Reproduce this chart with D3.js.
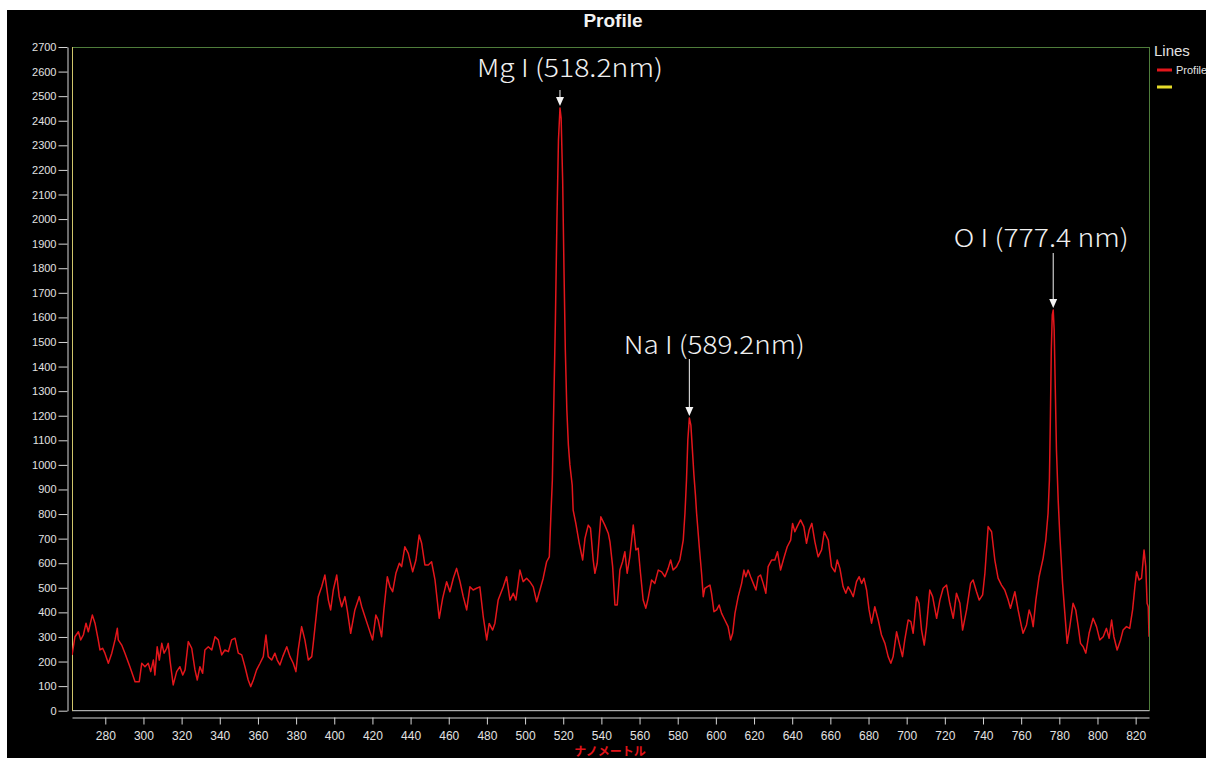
<!DOCTYPE html>
<html>
<head>
<meta charset="utf-8">
<script src="https://cdn.jsdelivr.net/npm/d3@7"></script>
<style>
  html, body { margin: 0; padding: 0; background: #ffffff; }
  svg { display: block; }
</style>
</head>
<body>
<svg id="chart" width="1206" height="758"></svg>
<script>
// Emission profile: [wavelength (nm), intensity]
const profile = [
  [262.6,227],[264.1,301],[265.9,321],[267.1,288],[268.5,308],[269.9,356],[271.1,321],[273.2,389],[274.6,356],[276.3,288],
  [277.2,247],[278.6,254],[279.8,234],[281.6,193],[283.4,234],[285.1,288],[286.3,335],[286.8,288],[288.6,267],[290.3,234],
  [292.9,179],[295.6,118],[297.8,118],[299.1,193],[300.8,179],[302.5,193],[303.8,159],[305.2,206],[306.0,145],[307.2,260],
  [308.3,206],[309.6,274],[310.8,234],[312.2,254],[313.0,274],[313.9,206],[315.6,105],[317.4,159],[319.1,179],[320.6,145],
  [321.8,166],[323.5,281],[325.3,254],[327.0,166],[328.2,125],[329.6,179],[331.0,152],[332.2,247],[334.0,260],[335.8,247],
  [337.5,301],[339.2,288],[341.0,227],[342.7,247],[344.5,240],[346.2,288],[348.0,295],[349.7,234],[351.5,227],[353.2,179],
  [354.9,125],[356.2,98],[357.6,125],[359.3,166],[361.1,193],[362.8,220],[364.2,308],[365.4,220],[367.2,206],[368.9,234],
  [370.1,206],[371.5,186],[373.0,220],[375.1,260],[376.8,220],[378.5,193],[379.9,159],[381.1,247],[382.9,342],[384.6,288],
  [386.4,206],[388.2,220],
  [389.0,274],[391.6,464],[393.4,504],[395.1,552],[396.9,450],[398.1,410],[399.5,491],[401.3,552],[402.6,464],[403.9,423],
  [405.6,464],[406.8,410],[408.6,315],[410.8,410],[413.1,464],[414.4,423],[416.1,382],[417.8,342],[420.1,288],[421.8,389],
  [423.0,369],[424.8,301],[426.0,410],[427.8,545],[429.2,504],[430.6,484],[432.3,559],[434.1,600],[435.3,586],[437.0,667],
  [438.8,640],[441.1,565],[442.8,613],[444.5,715],[445.8,681],[447.5,593],[449.3,593],[451.0,606],[452.8,532],[455.0,376],
  [456.8,457],[458.9,525],[460.6,484],[462.4,539],[464.1,579],[465.9,525],[467.6,464],[469.4,410],[471.1,504],[472.8,491],
  [474.6,498],[476.3,504],[478.1,382],[479.9,288],[481.2,355],[483.0,328],[484.2,356],[485.9,450],[488.6,504],[490.3,545],
  [492.1,450],[493.8,478],[495.2,450],[497.3,572],[499.0,525],[500.8,539],[502.5,525],[504.3,504],[506.1,443],[507.8,491],
  [509.5,539],[511.3,606],[512.7,626],
  [513.5,789],[514.3,938],[515.1,1264],[515.9,1589],[516.7,1996],[517.5,2322],[518.3,2452],[518.9,2411],[519.7,2159],[520.4,1793],
  [521.1,1467],[521.9,1223],[522.7,1081],[523.5,1000],[524.7,918],[525.2,816],
  [526.6,762],[528.4,681],[530.2,613],[531.4,701],[533.1,755],[534.3,742],[535.7,613],[536.6,559],[537.8,600],[539.7,789],
  [541.8,755],[543.6,722],[544.5,687],[545.9,586],[547.1,430],[548.3,430],[549.7,572],[551.1,606],[552.3,647],[553.5,559],
  [554.9,626],[556.7,755],[558.1,654],[559.3,661],[560.5,559],[561.9,450],[563.3,417],[564.5,457],[566.3,532],[568.0,518],
  [569.8,572],[571.6,565],[573.3,545],[575.0,579],[576.3,613],[577.6,572],[579.4,586],[581.1,613],[582.9,694],[583.8,803],
  [584.6,938],[585.3,1101],[586.1,1191],[586.9,1162],[587.7,1061],[588.5,959],[589.3,877],[589.9,803],
  [591.3,667],[592.5,559],[593.4,464],[594.2,498],[595.4,504],[596.9,511],[597.7,478],[599.0,403],[600.4,410],[601.7,430],
  [603.0,396],[604.7,369],[606.4,342],[607.7,288],[608.8,315],[610.0,396],[611.7,464],[613.5,518],[614.7,572],[615.7,545],
  [616.9,572],[618.2,545],[619.6,518],[621.0,491],[622.2,545],[623.4,552],[624.8,518],[626.2,478],[627.4,586],[629.2,613],
  [630.9,613],[632.3,647],[633.9,572],[635.6,620],[637.4,667],[639.2,694],[640.2,762],[641.4,728],[642.6,749],[644.4,776],
  [646.1,749],[647.5,681],[648.9,735],[650.3,762],[651.9,687],[653.6,626],[655.4,654],[656.8,728],[658.9,694],[660.6,586],
  [662.4,565],[663.6,613],[665.0,579],[666.7,504],[668.1,478],[669.3,504],[670.8,484],[672.0,464],[673.7,525],[675.1,545],
  [676.4,518],[677.6,539],[679.0,491],[680.3,410],[681.6,356],[683.3,423],[685.1,369],[686.8,308],[688.6,274],[690.3,220],
  [691.7,193],[692.9,220],[694.7,321],[696.1,274],[697.8,220],[699.0,288],[700.8,369],[702.2,362],[703.4,315],[705.2,464],
  [706.5,437],[707.8,328],[709.2,267],[710.4,342],[712.1,491],[713.6,464],[715.7,376],[717.4,450],[719.1,498],[720.9,511],
  [722.6,437],[724.4,376],[726.1,478],[727.9,437],[729.3,328],[731.4,410],[733.5,518],[734.8,532],[736.6,484],[738.0,450],
  [739.8,471],[741.0,559],[742.7,749],[744.5,728],[746.2,613],[747.9,539],[749.7,511],[751.4,491],[753.2,450],[754.4,417],
  [756.7,484],[758.4,410],[760.2,342],[761.0,315],[762.8,349],[764.2,410],[765.4,382],[766.3,342],[767.7,450],[769.4,545],
  [771.5,620],[772.9,694],[774.1,803],
  [774.8,938],[775.3,1183],[775.8,1467],[776.3,1610],[776.8,1630],[777.3,1549],[777.9,1305],[778.5,1061],[779.4,857],[780.3,708],
  [781.7,518],[782.9,396],[784.1,274],[785.5,342],[787.2,437],[788.6,410],[789.9,342],[791.1,274],[792.5,260],[793.9,234],
  [795.6,315],[797.7,376],[799.5,342],[801.2,288],[803.0,301],[804.7,335],[806.1,295],[807.4,369],[808.6,301],[810.3,247],
  [812.1,288],[813.4,328],[815.2,342],[816.9,335],[818.4,410],[819.6,504],[820.5,565],[821.8,532],[823.1,539],[824.4,654],
  [825.3,586],[826.0,437],[826.6,423],[827.0,301]
];

const xTickValues = [280,300,320,340,360,380,400,420,440,460,480,500,520,540,560,580,600,620,640,660,680,700,720,740,760,780,800,820];
const yTickValues = [0,100,200,300,400,500,600,700,800,900,1000,1100,1200,1300,1400,1500,1600,1700,1800,1900,2000,2100,2200,2300,2400,2500,2600,2700];
const xDomain = [262.55, 827];
const yDomain = [0, 2700];

const chartTitle = "Profile";
const xAxisTitle = "ナノメートル";
const legendTitle = "Lines";
const legendEntries = ["Profile", ""];

// Spectral lines marked on the profile; the arrow finds the local maximum near each wavelength.
const lineLabels = ["Mg I (518.2nm)", "Na I (589.2nm)", "O I (777.4 nm)"];
const lineNm = [518.2, 589.2, 777.4];

// ---- layout -------------------------------------------------------------
const plot = { left: 72, right: 1149, top: 47, bottom: 710.7 };
const labelLayout = [
  { dx: 10,  baseline: 77,  lineTop: 90,  width: 186 },
  { dx: 25,  baseline: 354, lineTop: 359, width: 181 },
  { dx: -12, baseline: 247, lineTop: 253, width: 175 }
];
const colors = {
  trace: "#e3161b", legendYellow: "#e6dc2a", frameGreen: "#4f7d3b",
  frameYellow: "#cfc56a", axis: "#d6d6d6", text: "#e2e2e2"
};

const svg = d3.select("#chart");

svg.append("rect").attr("x", 7).attr("y", 10).attr("width", 1199).attr("height", 748).attr("fill", "#000");

const x = d3.scaleLinear().domain(xDomain).range([plot.left, plot.right]);
const y = d3.scaleLinear().domain(yDomain).range([plot.bottom, plot.top]);

// Title
svg.append("text")
  .attr("x", 613).attr("y", 27)
  .attr("text-anchor", "middle")
  .attr("fill", "#f2f2f2")
  .attr("font-family", "Arial, 'Liberation Sans', sans-serif")
  .attr("font-size", 19).attr("font-weight", "bold")
  .text(chartTitle);

// Y axis
const yAxis = svg.append("g")
  .attr("transform", "translate(67.5,0)")
  .call(d3.axisLeft(y).tickValues(yTickValues).tickSize(9).tickSizeOuter(0).tickPadding(2).tickFormat(d3.format("d")));
yAxis.select(".domain").attr("stroke", colors.axis);
yAxis.selectAll(".tick line").attr("stroke", colors.axis);
yAxis.selectAll(".tick text")
  .attr("fill", colors.text)
  .attr("font-family", "Arial, 'Liberation Sans', sans-serif")
  .attr("font-size", 11);

// X axis (separate ruler under the plot)
const xAxis = svg.append("g")
  .attr("transform", "translate(0,717.5)")
  .call(d3.axisBottom(x).tickValues(xTickValues).tickSize(7).tickSizeOuter(0).tickPadding(7).tickFormat(d3.format("d")));
xAxis.select(".domain").attr("stroke", colors.axis);
xAxis.selectAll(".tick line").attr("stroke", colors.axis);
xAxis.selectAll(".tick text")
  .attr("fill", colors.text)
  .attr("font-family", "Arial, 'Liberation Sans', sans-serif")
  .attr("font-size", 12);

// Plot frame
const frame = svg.append("g").attr("fill", "none").attr("stroke-width", 1);
frame.append("line").attr("x1", plot.left).attr("x2", plot.right + 0.5).attr("y1", plot.top + 0.5).attr("y2", plot.top + 0.5).attr("stroke", colors.frameGreen);
frame.append("line").attr("x1", plot.right + 0.5).attr("x2", plot.right + 0.5).attr("y1", plot.top).attr("y2", plot.bottom).attr("stroke", colors.frameGreen);
frame.append("line").attr("x1", plot.left).attr("x2", plot.right + 0.5).attr("y1", y(0)).attr("y2", y(0)).attr("stroke", colors.axis);
frame.append("line").attr("x1", plot.left + 0.5).attr("x2", plot.left + 0.5).attr("y1", plot.top).attr("y2", plot.bottom).attr("stroke", colors.frameYellow);

// Trace
svg.append("clipPath").attr("id", "plot-clip")
  .append("rect").attr("x", plot.left).attr("y", plot.top).attr("width", plot.right - plot.left).attr("height", plot.bottom - plot.top);

const line = d3.line().x(d => x(d[0])).y(d => y(d[1]));
svg.append("path")
  .datum(profile)
  .attr("clip-path", "url(#plot-clip)")
  .attr("fill", "none")
  .attr("stroke", colors.trace)
  .attr("stroke-width", 1.5)
  .attr("stroke-linejoin", "round")
  .attr("d", line);

// Spectral line annotations
const annot = svg.append("g");
lineNm.forEach((nm, i) => {
  const near = profile.filter(d => Math.abs(d[0] - nm) <= 4.5);
  const peak = d3.greatest(near, d => d[1]);
  const px = x(peak[0]);
  const tipY = y(peak[1]) - 2;
  const L = labelLayout[i];
  annot.append("line")
    .attr("x1", px).attr("x2", px)
    .attr("y1", L.lineTop).attr("y2", tipY - 8)
    .attr("stroke", "#f4f4f4").attr("stroke-width", 1);
  annot.append("path")
    .attr("d", `M${px - 4},${tipY - 9}L${px + 4},${tipY - 9}L${px},${tipY}Z`)
    .attr("fill", "#f4f4f4");
  annot.append("text")
    .attr("x", px + L.dx).attr("y", L.baseline)
    .attr("text-anchor", "middle")
    .attr("fill", "#f0f0f0")
    .attr("font-family", "'Noto Sans CJK JP', 'Noto Sans', sans-serif")
    .attr("font-weight", 300)
    .attr("font-size", 25)
    .attr("textLength", L.width)
    .attr("lengthAdjust", "spacingAndGlyphs")
    .text(lineLabels[i]);
});

// X axis title
svg.append("text")
  .attr("x", 610).attr("y", 756)
  .attr("text-anchor", "middle")
  .attr("fill", "#e0141a")
  .attr("font-family", "'Noto Sans CJK JP', sans-serif")
  .attr("font-weight", "bold")
  .attr("font-size", 12)
  .text(xAxisTitle);

// Legend
const legend = svg.append("g");
legend.append("text")
  .attr("x", 1154).attr("y", 56)
  .attr("fill", colors.text)
  .attr("font-family", "Arial, 'Liberation Sans', sans-serif")
  .attr("font-size", 15)
  .text(legendTitle);
const legendColors = [colors.trace, colors.legendYellow];
legendEntries.forEach((name, i) => {
  const ly = 70 + i * 17;
  legend.append("line")
    .attr("x1", 1157).attr("x2", 1172).attr("y1", ly).attr("y2", ly)
    .attr("stroke", legendColors[i]).attr("stroke-width", 3);
  legend.append("text")
    .attr("x", 1176).attr("y", ly + 4)
    .attr("fill", colors.text)
    .attr("font-family", "Arial, 'Liberation Sans', sans-serif")
    .attr("font-size", 11)
    .text(name);
});
</script>
</body>
</html>
